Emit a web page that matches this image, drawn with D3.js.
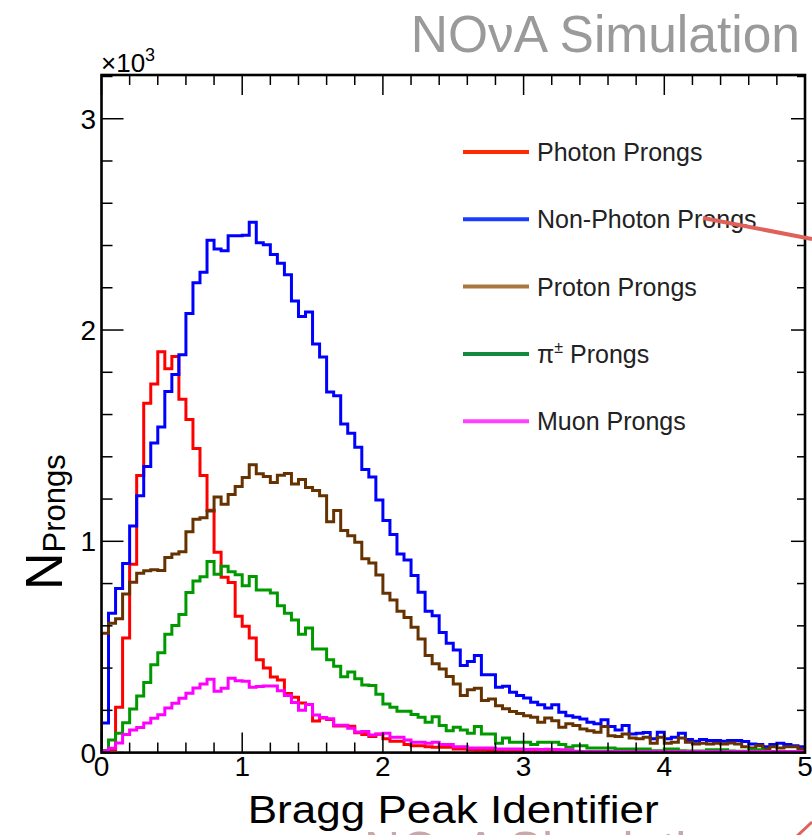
<!DOCTYPE html>
<html>
<head>
<meta charset="utf-8">
<script src="https://cdn.jsdelivr.net/npm/d3@7"></script>
<style>
  html, body { margin: 0; padding: 0; background: #fff; }
  svg { display: block; font-family: "Liberation Sans", Arial, Helvetica, sans-serif; }
</style>
</head>
<body>
<svg id="chart" width="812" height="835"></svg>
<script>
// histogram binning: 100 bins of 0.05 from 0 to 5
const xMin = 0, xMax = 5, binWidth = 0.05;

// bin contents (counts per bin)
const photon = [
  5, 15, 215, 542, 891, 1312, 1654, 1745, 1897, 1817,
  1875, 1672, 1576, 1439, 1312, 1147, 948, 830, 805, 645,
  598, 542, 439, 400, 358, 344, 280, 262, 235, 228,
  150, 164, 157, 126, 126, 125, 94, 86, 76, 87,
  65, 54, 54, 38, 33, 33, 28, 25, 25, 25,
  17, 17, 13, 12, 12, 10, 10, 9, 8, 8,
  8, 7, 7, 6, 6, 5, 5, 5, 4, 4,
  4, 4, 3, 3, 3, 3, 3, 2, 2, 2,
  2, 2, 2, 2, 1, 1, 1, 1, 1, 1,
  1, 1, 1, 1, 1, 1, 1, 1, 1, 1
];
const nonPhoton = [
  140, 660, 777, 895, 1073, 1216, 1354, 1465, 1541, 1709,
  1790, 1883, 2078, 2224, 2273, 2425, 2384, 2375, 2446, 2446,
  2449, 2510, 2413, 2404, 2358, 2316, 2262, 2137, 2064, 2085,
  1934, 1872, 1707, 1689, 1555, 1511, 1445, 1340, 1304, 1195,
  1099, 1032, 940, 912, 838, 759, 669, 648, 569, 517,
  486, 412, 431, 459, 369, 369, 309, 314, 286, 270,
  259, 238, 227, 211, 227, 191, 175, 167, 159, 144,
  136, 156, 123, 107, 128, 88, 91, 95, 65, 96,
  65, 73, 91, 62, 54, 62, 57, 57, 54, 57,
  57, 52, 41, 38, 28, 38, 44, 38, 33, 28
];
const proton = [
  565, 612, 633, 751, 806, 849, 861, 866, 862, 923,
  940, 951, 1045, 1104, 1111, 1144, 1210, 1175, 1222, 1259,
  1302, 1362, 1320, 1307, 1278, 1313, 1321, 1271, 1292, 1255,
  1240, 1216, 1093, 1146, 1051, 1026, 996, 918, 897, 841,
  754, 722, 669, 640, 593, 538, 459, 420, 396, 360,
  325, 270, 297, 304, 246, 254, 222, 207, 194, 185,
  175, 167, 144, 164, 151, 120, 136, 128, 112, 104,
  96, 123, 80, 76, 88, 69, 65, 73, 44, 73,
  44, 49, 69, 49, 41, 44, 41, 44, 41, 46,
  41, 28, 22, 33, 17, 28, 22, 28, 28, 17
];
const pion = [
  10, 60, 92, 141, 206, 268, 332, 416, 472, 560,
  602, 654, 758, 812, 832, 904, 844, 882, 856, 842,
  790, 834, 769, 769, 755, 695, 660, 627, 560, 590,
  490, 490, 440, 409, 359, 382, 350, 320, 318, 276,
  230, 215, 196, 196, 180, 167, 144, 170, 128, 104,
  120, 107, 91, 123, 88, 88, 44, 69, 49, 49,
  49, 38, 49, 49, 49, 38, 25, 33, 33, 22,
  22, 22, 22, 17, 17, 17, 17, 17, 9, 9,
  17, 17, 9, 8, 7, 8, 13, 13, 13, 7,
  6, 6, 13, 13, 6, 5, 5, 5, 4, 4
];
const muon = [
  8, 21, 46, 86, 107, 119, 140, 163, 179, 211,
  233, 257, 281, 306, 325, 347, 290, 305, 352, 340,
  338, 309, 313, 315, 315, 293, 270, 237, 200, 228,
  178, 166, 160, 130, 130, 115, 98, 100, 83, 88,
  91, 73, 73, 60, 49, 49, 44, 49, 38, 38,
  28, 28, 22, 22, 22, 22, 17, 17, 17, 17,
  15, 16, 15, 16, 15, 14, 12, 6, 5, 5,
  5, 5, 5, 5, 5, 5, 5, 5, 5, 5,
  5, 5, 5, 5, 5, 5, 5, 5, 5, 5,
  5, 5, 5, 5, 5, 5, 5, 5, 5, 5
];

const seriesNames = ["Photon Prongs", "Non-Photon Prongs", "Proton Prongs", "\u03c0", "Muon Prongs"];
const seriesData = [photon, nonPhoton, proton, pion, muon];
const lineColors = ["#ff0000", "#0000ff", "#663300", "#009900", "#ff00ff"];
const legendColors = ["#ff2a00", "#1a3cff", "#a87840", "#138a3c", "#ff40ff"];

const xTicks = [0, 1, 2, 3, 4, 5];
const yTicks = [0, 1000, 2000, 3000];
const yTickLabels = ["0", "1", "2", "3"];

const svg = d3.select("#chart");
const frame = { left: 101.5, right: 805, top: 75, bottom: 752.6 };

const x = d3.scaleLinear().domain([xMin, xMax]).range([frame.left, frame.right]);
const y = d3.scaleLinear().domain([0, 3207]).range([frame.bottom, frame.top]);

// title
svg.append("text")
  .attr("x", 800).attr("y", 52)
  .attr("text-anchor", "end")
  .attr("font-size", 51.5)
  .attr("fill", "#9a9a9a")
  .text("NO\u03bdA Simulation");

// clip for histograms
svg.append("defs").append("clipPath").attr("id", "plotclip")
  .append("rect")
  .attr("x", frame.left).attr("y", frame.top)
  .attr("width", frame.right - frame.left).attr("height", frame.bottom - frame.top);

// histogram outlines, ROOT style (start and end on the axis)
function stepPoints(vals) {
  const pts = [[xMin, 0]];
  vals.forEach((v, i) => {
    pts.push([xMin + i * binWidth, v]);
    pts.push([xMin + (i + 1) * binWidth, v]);
  });
  pts.push([xMax, 0]);
  return pts;
}
const line = d3.line().x(d => x(d[0])).y(d => y(d[1]));

const hists = svg.append("g").attr("clip-path", "url(#plotclip)");
seriesData.forEach((vals, k) => {
  hists.append("path")
    .attr("d", line(stepPoints(vals)))
    .attr("fill", "none")
    .attr("stroke", lineColors[k])
    .attr("stroke-width", 3)
    .attr("stroke-linejoin", "miter");
});

// axes (ticks on all four sides, like a ROOT frame)
const axisG = svg.append("g").attr("stroke", "#000");
const xMinor = d3.range(0, 5.0001, 0.2);
xMinor.forEach(v => {
  const major = Math.abs(v - Math.round(v)) < 1e-6;
  const len = major ? 20 : 10;
  axisG.append("line").attr("x1", x(v)).attr("x2", x(v))
    .attr("y1", frame.bottom).attr("y2", frame.bottom - len).attr("stroke-width", 1.5);
  axisG.append("line").attr("x1", x(v)).attr("x2", x(v))
    .attr("y1", frame.top).attr("y2", frame.top + len).attr("stroke-width", 1.5);
});
const yMinor = d3.range(0, 3201, 200);
yMinor.forEach(v => {
  const major = v % 1000 === 0;
  axisG.append("line").attr("x1", frame.left).attr("x2", frame.left + (major ? 22 : 11))
    .attr("y1", y(v)).attr("y2", y(v)).attr("stroke-width", 1.5);
  axisG.append("line").attr("x1", frame.right).attr("x2", frame.right - (major ? 14 : 8))
    .attr("y1", y(v)).attr("y2", y(v)).attr("stroke-width", 1.5);
});
svg.append("rect")
  .attr("x", frame.left).attr("y", frame.top)
  .attr("width", frame.right - frame.left).attr("height", frame.bottom - frame.top)
  .attr("fill", "none").attr("stroke", "#000").attr("stroke-width", 2.6);

// tick labels
svg.append("g").selectAll("text").data(xTicks).join("text")
  .attr("x", d => x(d)).attr("y", 776)
  .attr("text-anchor", "middle").attr("font-size", 28)
  .text(d => d);
svg.append("g").selectAll("text").data(yTicks).join("text")
  .attr("x", 96).attr("y", d => y(d) + 10)
  .attr("text-anchor", "end").attr("font-size", 28)
  .text((d, i) => yTickLabels[i]);

// exponent
const expo = svg.append("text").attr("x", 101).attr("y", 72).attr("font-size", 26);
expo.append("tspan").text("\u00d710");
expo.append("tspan").attr("dy", -11).attr("font-size", 18).text("3");

// axis titles
svg.append("text")
  .attr("x", (frame.left + frame.right) / 2).attr("y", 823)
  .attr("text-anchor", "middle").attr("font-size", 38)
  .attr("textLength", 411).attr("lengthAdjust", "spacingAndGlyphs")
  .text("Bragg Peak Identifier");

const yt = svg.append("text")
  .attr("transform", "translate(62,590) rotate(-90)")
  .attr("font-size", 52);
yt.append("tspan").text("N");
yt.append("tspan").attr("font-size", 31).attr("dy", 3).text("Prongs");

// legend
const leg = svg.append("g");
seriesNames.forEach((name, k) => {
  const ly = 152 + k * 67.3;
  leg.append("line").attr("x1", 463).attr("x2", 529).attr("y1", ly).attr("y2", ly)
    .attr("stroke", legendColors[k]).attr("stroke-width", 4);
  const t = leg.append("text").attr("x", 537).attr("y", ly + 9)
    .attr("font-size", 25).attr("fill", "#222")
    .text(name);
  if (k === 3) {
    t.append("tspan").attr("dy", -10).attr("font-size", 16).text("\u00b1");
    t.append("tspan").attr("dy", 10).text(" Prongs");
  }
});

// annotation arrows from the slide this plot was cut from
svg.append("line")
  .attr("x1", 703).attr("y1", 218).attr("x2", 812).attr("y2", 239)
  .attr("stroke", "#e0605a").attr("stroke-width", 4);
svg.append("line")
  .attr("x1", 797).attr("y1", 836).attr("x2", 812).attr("y2", 822)
  .attr("stroke", "#e0605a").attr("stroke-width", 3);

// cut-off caption from the slide below
svg.append("text")
  .attr("x", 742).attr("y", 867)
  .attr("text-anchor", "end").attr("font-size", 50)
  .attr("fill", "#c8a8a8")
  .text("NO\u03bdA Simulation");
</script>
</body>
</html>
